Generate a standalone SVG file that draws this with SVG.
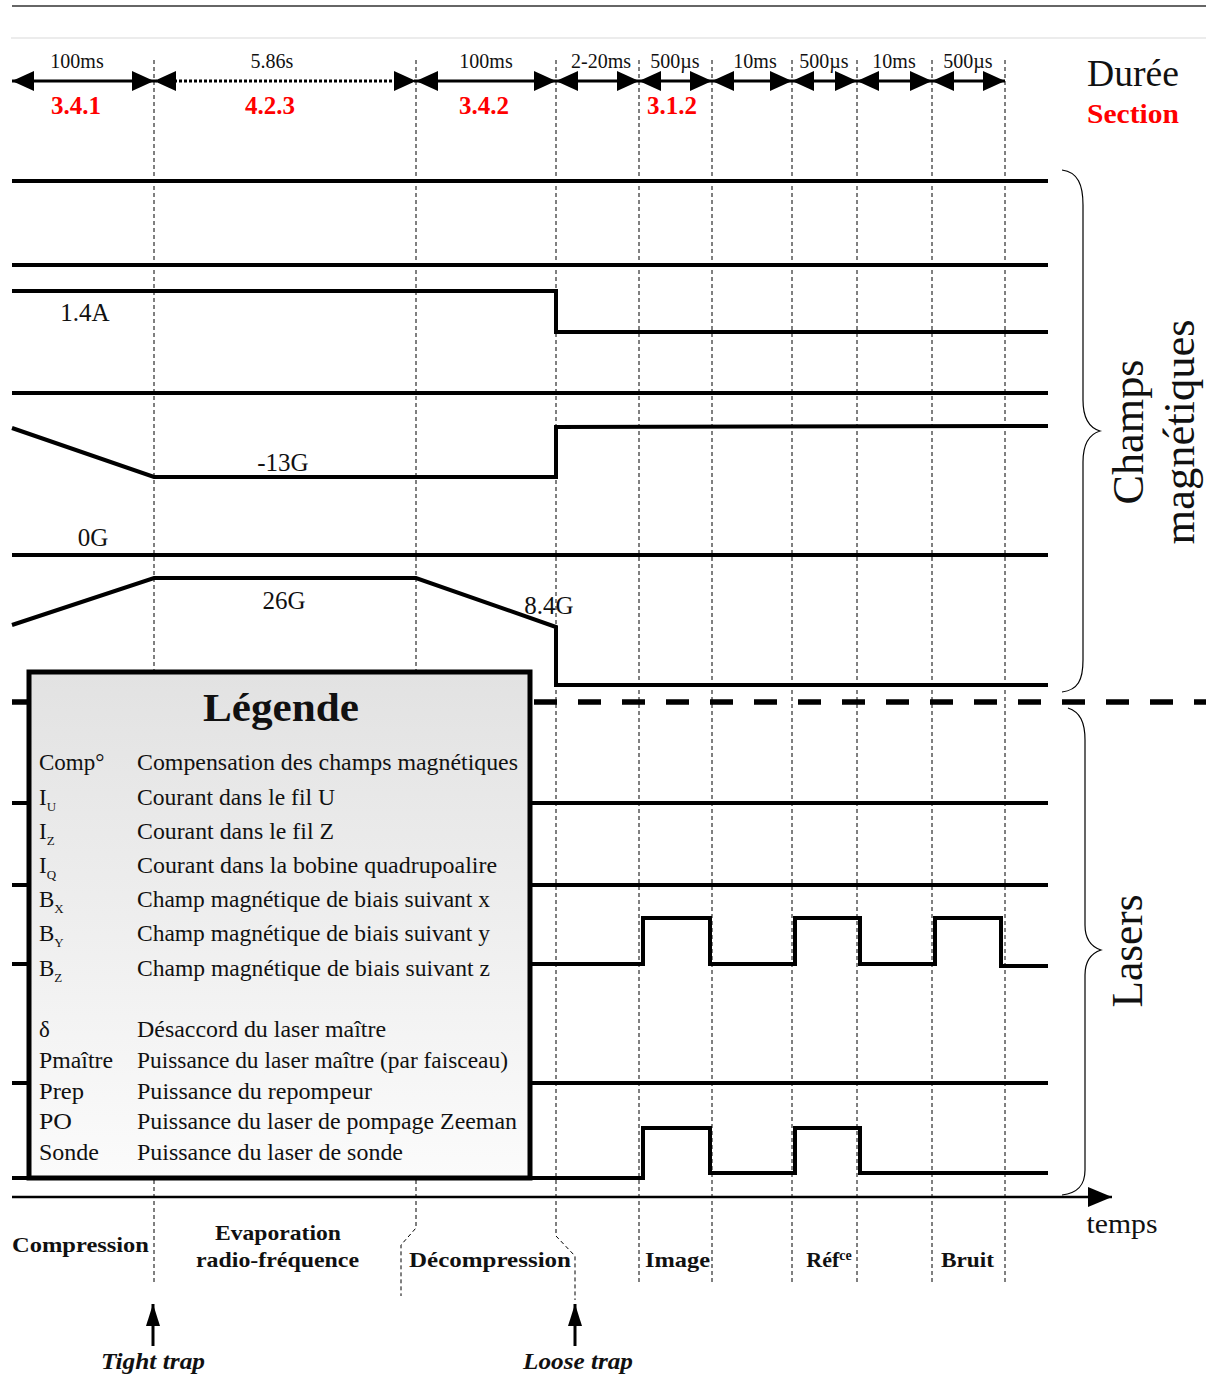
<svg xmlns="http://www.w3.org/2000/svg" width="1206" height="1392" viewBox="0 0 1206 1392">
<style>
text{font-family:"Liberation Serif","Times New Roman",serif;fill:#111}
.dur{font-size:20px;text-anchor:middle}
.sec{font-size:25px;font-weight:bold;fill:#ff0000;text-anchor:middle}
.val{font-size:25px;text-anchor:middle}
.trace{fill:none;stroke:#000;stroke-width:4;stroke-linejoin:miter}
.vdash{fill:none;stroke:#000;stroke-width:1;stroke-dasharray:4 3}
.arr{stroke:#000;stroke-width:3;marker-start:url(#ah);marker-end:url(#ah)}
.leg{font-size:22.5px}
.ab{font-size:23px}
.phase{font-size:22px;font-weight:bold;text-anchor:middle}
.big{font-size:44px;text-anchor:middle}
.brace{fill:none;stroke:#000;stroke-width:1.2}
.trap{font-size:23px;font-weight:bold;font-style:italic;text-anchor:middle}
</style>
<defs>
<marker id="ah" viewBox="0 0 22 20" refX="22" refY="10" markerWidth="22" markerHeight="20" orient="auto-start-reverse" markerUnits="userSpaceOnUse"><path d="M0,0 L22,10 L0,20 z" fill="#000"/></marker>
<marker id="ax" viewBox="0 0 24 20" refX="24" refY="10" markerWidth="24" markerHeight="20" orient="auto" markerUnits="userSpaceOnUse"><path d="M0,0 L24,10 L0,20 z" fill="#000"/></marker>
<marker id="up" viewBox="0 0 14 22" refX="7" refY="0" markerWidth="14" markerHeight="22" orient="0" markerUnits="userSpaceOnUse"><path d="M7,0 L14,22 L0,22 z" fill="#000"/></marker>
<linearGradient id="lg" x1="0" y1="0" x2="0" y2="1"><stop offset="0" stop-color="#e2e2e2"/><stop offset="1" stop-color="#fbfbfb"/></linearGradient>
</defs>
<rect width="1206" height="1392" fill="#fff"/>
<line x1="12" y1="6" x2="1206" y2="6" stroke="#333" stroke-width="1.5"/>
<line x1="11" y1="38" x2="1206" y2="38" stroke="#e6e6e6" stroke-width="1.5"/>

<g id="gridlines">
<path class="vdash" d="M154,60 V1283"/>
<path class="vdash" d="M416,60 V1228 L401,1245 V1296"/>
<path class="vdash" d="M556,60 V1236 L575,1256 V1300"/>
<path class="vdash" d="M639,60 V1283"/>
<path class="vdash" d="M712,60 V1283"/>
<path class="vdash" d="M792,60 V1283"/>
<path class="vdash" d="M857,60 V1283"/>
<path class="vdash" d="M932,60 V1283"/>
<path class="vdash" d="M1005,60 V1283"/>
</g>

<g id="durations">
<line class="arr" x1="12" y1="81" x2="154" y2="81" stroke-width="2.5"/>
<line class="arr" x1="154" y1="81" x2="416" y2="81" stroke-dasharray="3 2"/>
<line class="arr" x1="416" y1="81" x2="556" y2="81" stroke-width="2.5"/>
<line class="arr" x1="556" y1="81" x2="639" y2="81" stroke-width="3.5"/>
<line class="arr" x1="639" y1="81" x2="712" y2="81" stroke-width="3.5"/>
<line class="arr" x1="712" y1="81" x2="792" y2="81" stroke-width="3.5"/>
<line class="arr" x1="792" y1="81" x2="857" y2="81" stroke-width="3.5"/>
<line class="arr" x1="857" y1="81" x2="932" y2="81" stroke-width="3.5"/>
<line class="arr" x1="932" y1="81" x2="1005" y2="81" stroke-width="3.5"/>
<text class="dur" x="77" y="68">100ms</text>
<text class="dur" x="272" y="68">5.86s</text>
<text class="dur" x="486" y="68">100ms</text>
<text class="dur" x="601" y="68">2-20ms</text>
<text class="dur" x="675" y="68">500µs</text>
<text class="dur" x="755" y="68">10ms</text>
<text class="dur" x="824" y="68">500µs</text>
<text class="dur" x="894" y="68">10ms</text>
<text class="dur" x="968" y="68">500µs</text>
<text class="sec" x="76" y="114">3.4.1</text>
<text class="sec" x="270" y="114">4.2.3</text>
<text class="sec" x="484" y="114">3.4.2</text>
<text class="sec" x="672" y="114">3.1.2</text>
<text x="1133" y="86" font-size="38" text-anchor="middle" textLength="92" lengthAdjust="spacingAndGlyphs">Durée</text>
<text x="1133" y="123" font-size="28" font-weight="bold" text-anchor="middle" style="fill:#ff0000" textLength="92" lengthAdjust="spacingAndGlyphs">Section</text>
</g>

<g id="traces">
<path id="comp" class="trace" d="M12,181 H1048"/>
<path id="iu" class="trace" d="M12,265 H1048"/>
<path id="iz" class="trace" d="M12,291 H556 V332 H1048"/>
<path id="iq" class="trace" d="M12,393 H1048"/>
<path id="bx" class="trace" d="M12,428 L154,477 H556 V427 L1048,426"/>
<path id="by" class="trace" d="M12,555 H1048"/>
<path id="bz" class="trace" d="M12,625 L154,578 H416 L556,627 V685 H1048"/>
<line x1="12" y1="702" x2="1206" y2="702" stroke="#000" stroke-width="5.5" stroke-dasharray="23 21" stroke-dashoffset="6"/>
<path id="delta" class="trace" d="M12,803 H1048"/>
<path id="pmaitre" class="trace" d="M12,885 H1048"/>
<path id="prep" class="trace" d="M12,964 H643 V918 H710 V964 H795 V918 H860 V964 H935 V918 H1001 V966 H1048"/>
<path id="po" class="trace" d="M12,1083 H1048"/>
<path id="sonde" class="trace" d="M12,1178 H643 V1128 H710 V1173 H795 V1128 H860 V1173 H1048"/>
<text class="val" x="85" y="321">1.4A</text>
<text class="val" x="283" y="471">-13G</text>
<text class="val" x="93" y="546">0G</text>
<text class="val" x="284" y="609">26G</text>
<text class="val" x="549" y="614">8.4G</text>
</g>

<g id="braces">
<path class="brace" d="M1062,170 C1078,172 1083,185 1083,205 L1083,400 C1083,420 1090,428 1100,431 C1090,434 1083,442 1083,462 L1083,660 C1083,680 1078,690 1062,692"/>
<path class="brace" d="M1068,708 C1080,712 1085,722 1085,740 L1085,925 C1085,940 1092,947 1101,950 C1092,953 1085,960 1085,975 L1085,1170 C1085,1185 1078,1193 1062,1195"/>
<text class="big" transform="translate(1143,432) rotate(-90)" textLength="145" lengthAdjust="spacingAndGlyphs">Champs</text>
<text class="big" transform="translate(1194,432) rotate(-90)" textLength="225" lengthAdjust="spacingAndGlyphs">magnétiques</text>
<text class="big" transform="translate(1142,951) rotate(-90)" textLength="113" lengthAdjust="spacingAndGlyphs">Lasers</text>
</g>

<g id="legend">
<rect x="29" y="672" width="501" height="506" fill="url(#lg)" stroke="#000" stroke-width="5"/>
<text x="281" y="721" font-size="40" font-weight="bold" text-anchor="middle" textLength="156" lengthAdjust="spacingAndGlyphs">Légende</text>
<text class="ab" x="39" y="770">Comp°</text><text class="leg" x="137" y="770" textLength="381" lengthAdjust="spacingAndGlyphs">Compensation des champs magnétiques</text>
<text class="ab" x="39" y="805">I<tspan font-size="13" dy="6">U</tspan></text><text class="leg" x="137" y="805" textLength="198" lengthAdjust="spacingAndGlyphs">Courant dans le fil U</text>
<text class="ab" x="39" y="839">I<tspan font-size="13" dy="6">Z</tspan></text><text class="leg" x="137" y="839" textLength="197" lengthAdjust="spacingAndGlyphs">Courant dans le fil Z</text>
<text class="ab" x="39" y="873">I<tspan font-size="13" dy="6">Q</tspan></text><text class="leg" x="137" y="873" textLength="360" lengthAdjust="spacingAndGlyphs">Courant dans la bobine quadrupoalire</text>
<text class="ab" x="39" y="907">B<tspan font-size="13" dy="6">X</tspan></text><text class="leg" x="137" y="907" textLength="353" lengthAdjust="spacingAndGlyphs">Champ magnétique de biais suivant x</text>
<text class="ab" x="39" y="941">B<tspan font-size="13" dy="6">Y</tspan></text><text class="leg" x="137" y="941" textLength="353" lengthAdjust="spacingAndGlyphs">Champ magnétique de biais suivant y</text>
<text class="ab" x="39" y="976">B<tspan font-size="13" dy="6">Z</tspan></text><text class="leg" x="137" y="976" textLength="353" lengthAdjust="spacingAndGlyphs">Champ magnétique de biais suivant z</text>
<text class="ab" x="39" y="1037">δ</text><text class="leg" x="137" y="1037" textLength="249" lengthAdjust="spacingAndGlyphs">Désaccord du laser maître</text>
<text class="ab" x="39" y="1068" textLength="74" lengthAdjust="spacingAndGlyphs">Pmaître</text><text class="leg" x="137" y="1068" textLength="371" lengthAdjust="spacingAndGlyphs">Puissance du laser maître (par faisceau)</text>
<text class="ab" x="39" y="1099" textLength="45" lengthAdjust="spacingAndGlyphs">Prep</text><text class="leg" x="137" y="1099" textLength="235" lengthAdjust="spacingAndGlyphs">Puissance du repompeur</text>
<text class="ab" x="39" y="1129" textLength="33" lengthAdjust="spacingAndGlyphs">PO</text><text class="leg" x="137" y="1129" textLength="380" lengthAdjust="spacingAndGlyphs">Puissance du laser de pompage Zeeman</text>
<text class="ab" x="39" y="1160" textLength="60" lengthAdjust="spacingAndGlyphs">Sonde</text><text class="leg" x="137" y="1160" textLength="266" lengthAdjust="spacingAndGlyphs">Puissance du laser de sonde</text>
</g>

<g id="axis">
<line x1="12" y1="1197" x2="1112" y2="1197" stroke="#000" stroke-width="2.5" marker-end="url(#ax)"/>
<text x="1122" y="1233" font-size="27" text-anchor="middle" textLength="71" lengthAdjust="spacingAndGlyphs">temps</text>
</g>

<g id="phases">
<text class="phase" x="80.5" y="1252" textLength="137" lengthAdjust="spacingAndGlyphs">Compression</text>
<text class="phase" x="278" y="1240" textLength="126" lengthAdjust="spacingAndGlyphs">Evaporation</text>
<text class="phase" x="277.5" y="1267" textLength="163" lengthAdjust="spacingAndGlyphs">radio-fréquence</text>
<text class="phase" x="490" y="1267" textLength="162" lengthAdjust="spacingAndGlyphs">Décompression</text>
<text class="phase" x="677.5" y="1267" textLength="65" lengthAdjust="spacingAndGlyphs">Image</text>
<text class="phase" x="829" y="1267" font-size="23">Réf<tspan font-size="14" dy="-7">ce</tspan></text>
<text class="phase" x="967.5" y="1267" textLength="53" lengthAdjust="spacingAndGlyphs">Bruit</text>
</g>

<g id="traps">
<line x1="153" y1="1346" x2="153" y2="1304" stroke="#000" stroke-width="3" marker-end="url(#up)"/>
<line x1="575" y1="1346" x2="575" y2="1304" stroke="#000" stroke-width="3" marker-end="url(#up)"/>
<text class="trap" x="153" y="1369" textLength="104" lengthAdjust="spacingAndGlyphs">Tight trap</text>
<text class="trap" x="578" y="1369" textLength="110" lengthAdjust="spacingAndGlyphs">Loose trap</text>
</g>
</svg>
